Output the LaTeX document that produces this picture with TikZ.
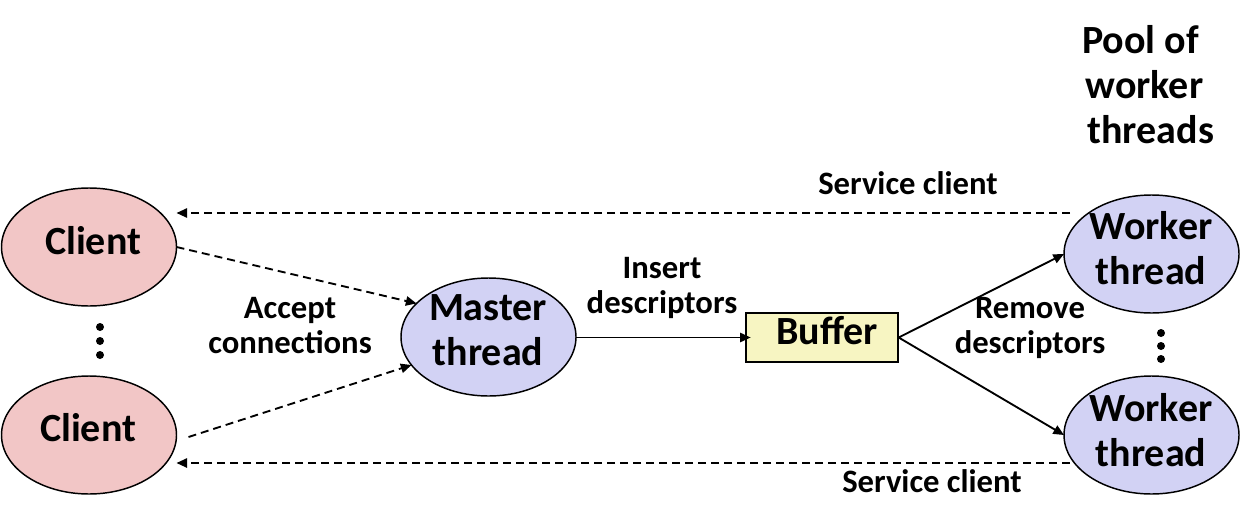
\documentclass[tikz,border=0pt]{standalone}
\usepackage{fontspec}
\setmainfont{Carlito}
\usetikzlibrary{arrows.meta,shapes.geometric,calc}
\definecolor{clientfill}{HTML}{F2C6C6}
\definecolor{threadfill}{HTML}{D2D2F4}
\definecolor{bufferfill}{HTML}{F7F5C2}
\tikzset{
  oval/.style={ellipse, draw=black, line width=1.1pt, inner sep=0pt, outer sep=0pt,
    minimum width=131.25pt, minimum height=88.5pt},
  clientnode/.style={oval, fill=clientfill},
  threadnode/.style={oval, fill=threadfill},
  bigtext/.style={font=\fontsize{30}{33.75}\selectfont\bfseries, align=center, inner sep=0pt},
  smalltext/.style={font=\fontsize{24.5}{26.25}\selectfont\bfseries, align=center, inner sep=0pt},
  conn/.style={line width=1.4pt, -{Triangle[length=8pt,width=7pt]}},
  dconn/.style={conn, dash pattern=on 6pt off 3.75pt},
  dotmark/.style={circle, fill=black, inner sep=0pt, minimum size=6pt}
}
\begin{document}
\begin{tikzpicture}[x=0.75pt,y=-0.75pt]
\useasboundingbox (0,0) rectangle (1241,521);
% shapes
\node[clientnode] (c1) at (89,247) {};
\node[clientnode] (c2) at (89,435) {};
\node[threadnode] (m) at (488.5,337) {};
\node[draw=black, line width=1pt, fill=bufferfill, minimum width=114pt, minimum height=36.75pt, inner sep=0pt] (b) at (822,337.5) {};
\node[threadnode] (w1) at (1151.5,254) {};
\node[threadnode] (w2) at (1151.5,435) {};
% texts
\node[bigtext] (tc1) at (93,241) {Client};
\node[bigtext] (tc2) at (88,428) {Client};
\node[bigtext] (tm) at (488,330) {Master\\thread};
\node[bigtext] (tb) at (827,331) {Buffer};
\node[bigtext] (tw1) at (1151,248) {Worker\\thread};
\node[bigtext] (tw2) at (1151,430) {Worker\\thread};
\node[bigtext, align=left, anchor=west] (tpool) at (1082,85) {Pool of\\\hspace*{2.5pt}worker\\\hspace*{4pt}threads};
\node[smalltext] (tacc) at (290,326) {Accept\\connections};
\node[smalltext] (tins) at (662,288) {Insert\\descriptors};
\node[smalltext] (trem) at (1030,328) {Remove\\descriptors};
\node[smalltext] (ts1) at (908,183) {Service client};
\node[smalltext] (ts2) at (932,481) {Service client};
% dots
\node[dotmark] (d1) at (100,327) {};
\node[dotmark] (d2) at (100,341) {};
\node[dotmark] (d3) at (100,355) {};
\node[dotmark] (d4) at (1161,333) {};
\node[dotmark] (d5) at (1161,346) {};
\node[dotmark] (d6) at (1161,359) {};
% connectors
\coordinate (s1) at (1070,213);
\coordinate (s2) at (1070,463);
\draw[dconn] (s1) -- (c1.east |- s1);
\draw[dconn] (s2) -- (c2.east |- s2);
\draw[dconn] (c1.east) -- (m.155.75);
\draw[dconn] ([xshift=9pt,yshift=-1.5pt]c2.east) -- (m.200.3);
\draw[conn] (m.east |- b.west) -- ([xshift=4pt]b.west);
\draw[conn] (b.east) -- (w1.west);
\draw[conn] (b.east) -- (w2.west);
\end{tikzpicture}
\end{document}
